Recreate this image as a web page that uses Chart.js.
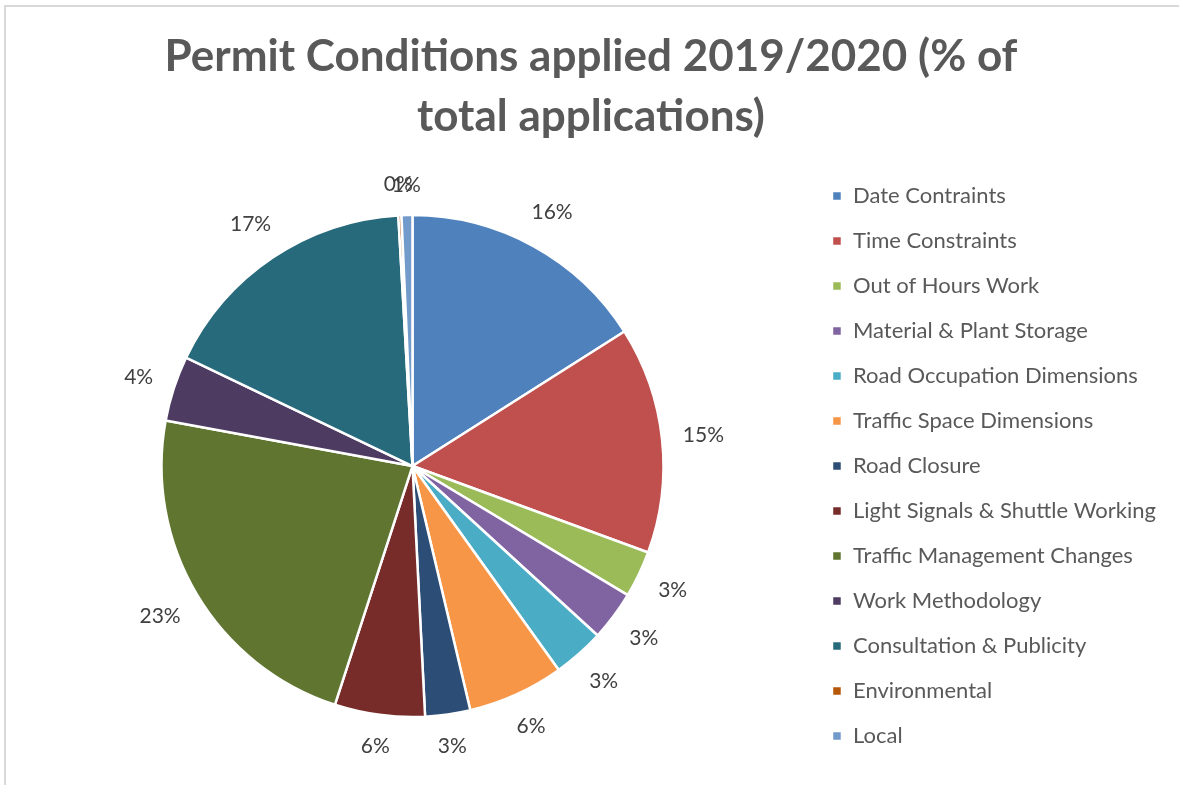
<!DOCTYPE html>
<html>
<head>
<meta charset="utf-8">
<script src="https://cdn.jsdelivr.net/npm/chart.js@4"></script>
<style>
  html, body { margin: 0; padding: 0; background: #fff; }
  #wrap { position: relative; width: 1179px; height: 785px; }
  #frame { position: absolute; left: 4px; top: 5px; right: -10px; bottom: -10px;
           border-top: 2px solid #d9d9d9; border-left: 2px solid #d9d9d9; pointer-events: none; }
  canvas { display: block; }
</style>
</head>
<body>
<div id="wrap">
  <canvas id="c" width="1179" height="785"></canvas>
  <div id="frame"></div>
</div>
<script>
const titleLines = ["Permit Conditions applied 2019/2020 (% of", "total applications)"];
const categories = [
  "Date Contraints",
  "Time Constraints",
  "Out of Hours Work",
  "Material & Plant Storage",
  "Road Occupation Dimensions",
  "Traffic Space Dimensions",
  "Road Closure",
  "Light Signals & Shuttle Working",
  "Traffic Management Changes",
  "Work Methodology",
  "Consultation & Publicity",
  "Environmental",
  "Local"
];
const percentValues = [16.0, 14.6, 3.0, 3.2, 3.3, 6.2, 2.9, 5.8, 22.9, 4.2, 17.0, 0.2, 0.7];
const sliceColors = [
  "#4F81BD", "#C0504D", "#9BBB59", "#8064A2", "#4BACC6", "#F79646",
  "#2C4D75", "#772C2A", "#5F7530", "#4D3B62", "#276A7C", "#B65708", "#729ACA"
];

const outsideLabels = {
  id: 'outsideLabels',
  afterDatasetsDraw(chart) {
    const ctx = chart.ctx;
    const meta = chart.getDatasetMeta(0);
    const data = chart.data.datasets[0].data;
    const total = data.reduce((a, b) => a + b, 0);
    ctx.save();
    ctx.font = '21px Lato, "Open Sans", sans-serif';
    ctx.fillStyle = '#404040';
    ctx.textAlign = 'center';
    ctx.textBaseline = 'middle';
    meta.data.forEach((arc, i) => {
      const p = arc.getProps(['x', 'y', 'startAngle', 'endAngle', 'outerRadius'], true);
      const mid = (p.startAngle + p.endAngle) / 2;
      const txt = Math.round(data[i] / total * 100) + '%';
      const hw = ctx.measureText(txt).width / 2;
      const hh = 10;
      const dist = p.outerRadius + 20 + Math.abs(Math.cos(mid)) * hw + Math.abs(Math.sin(mid)) * hh;
      ctx.fillText(txt, p.x + Math.cos(mid) * dist, p.y + Math.sin(mid) * dist);
    });
    ctx.restore();
  }
};

new Chart(document.getElementById('c'), {
  type: 'pie',
  data: {
    labels: categories,
    datasets: [{
      data: percentValues,
      backgroundColor: sliceColors,
      borderColor: '#ffffff',
      borderWidth: 2.5,
      radius: 251
    }]
  },
  options: {
    responsive: false,
    animation: false,
    layout: { padding: { left: 16, right: 13, top: 0, bottom: 0 } },
    plugins: {
      title: {
        display: true,
        text: titleLines,
        color: '#595959',
        font: { family: 'Lato, "Open Sans", sans-serif', size: 44, weight: 'bold', lineHeight: 1.364 },
        padding: { top: 27, bottom: 0 }
      },
      legend: {
        position: 'right',
        fullSize: false,
        labels: {
          color: '#595959',
          font: { family: 'Lato, "Open Sans", sans-serif', size: 22 },
          boxWidth: 10,
          boxHeight: 10,
          padding: 23
        }
      },
      tooltip: { enabled: false }
    }
  },
  plugins: [outsideLabels]
});
</script>
</body>
</html>
